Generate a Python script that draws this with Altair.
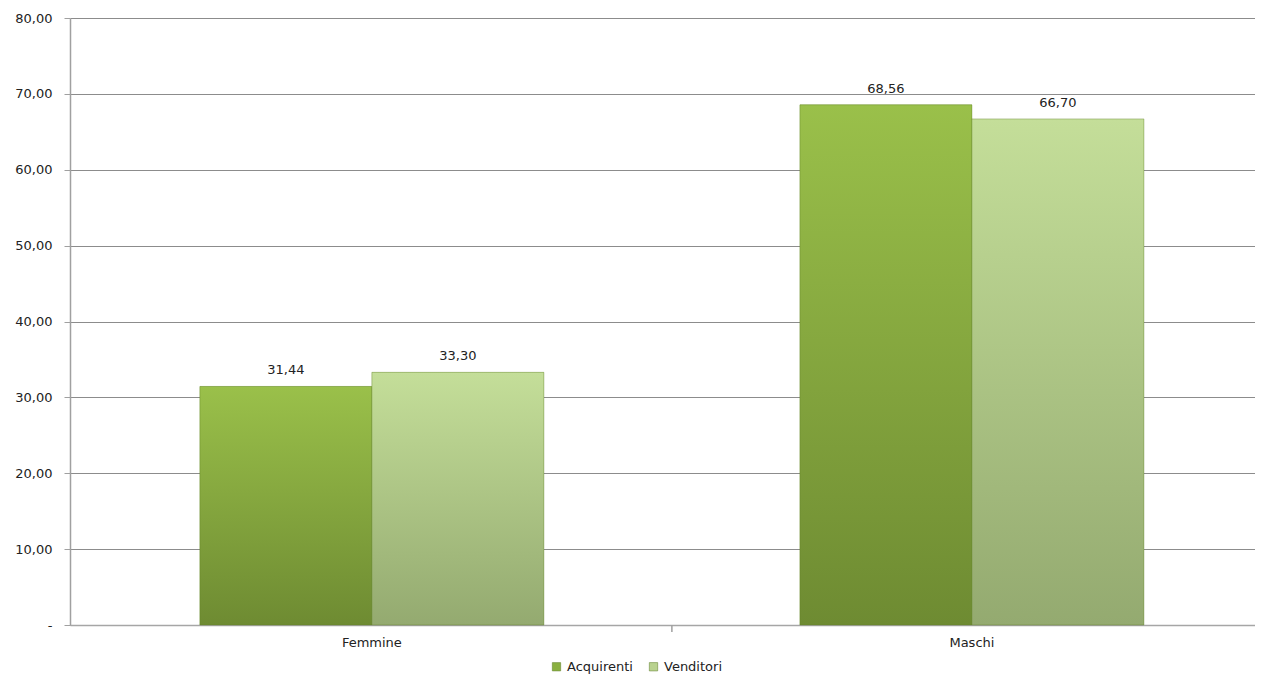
import altair as alt
import pandas as pd

categories = ["Femmine", "Femmine", "Maschi", "Maschi"]
series = ["Acquirenti", "Venditori", "Acquirenti", "Venditori"]
values = [31.44, 33.30, 68.56, 66.70]

series_order = ["Acquirenti", "Venditori"]
legend_colors = ["#8AB03F", "#B9D28F"]

df = pd.DataFrame({"cat": categories, "series": series, "value": values})
tick_df = pd.DataFrame({"cat": ["Femmine"]})

FONT = "DejaVu Sans"

grad_a = {
    "gradient": "linear", "x1": 0, "y1": 0, "x2": 0, "y2": 1,
    "stops": [
        {"offset": 0, "color": "#9AC04A"},
        {"offset": 1, "color": "#6E8B32"},
    ],
}
grad_v = {
    "gradient": "linear", "x1": 0, "y1": 0, "x2": 0, "y2": 1,
    "stops": [
        {"offset": 0, "color": "#C4DE99"},
        {"offset": 1, "color": "#94AA70"},
    ],
}

xscale = alt.Scale(domain=["Femmine", "Maschi"], paddingInner=0.4267, paddingOuter=0.2008, align=0.539)

x_enc = alt.X(
    "cat:N",
    title=None,
    sort=["Femmine", "Maschi"],
    scale=xscale,
    axis=alt.Axis(
        labelAngle=0, ticks=False, domainColor="#A6A6A6", domainWidth=1.5,
        labelFont=FONT, labelFontSize=13, labelColor="#222222", labelPadding=11,
    ),
)
xoff = alt.XOffset("series:N", sort=series_order, scale=alt.Scale(paddingInner=0, paddingOuter=0))
y_enc = alt.Y(
    "value:Q",
    title=None,
    scale=alt.Scale(domain=[0, 80], nice=False),
    axis=alt.Axis(
        values=[0, 10, 20, 30, 40, 50, 60, 70, 80],
        labelExpr="datum.value == 0 ? '-' : replace(format(datum.value, '.2f'), '.', ',')",
        labelFont=FONT, labelFontSize=13, labelColor="#222222", labelPadding=12,
        tickSize=6, tickColor="#A0A0A0", domainColor="#A0A0A0", domainWidth=1.5,
        gridColor="#8C8C8C", gridWidth=1, grid=True,
    ),
)

base = alt.Chart(df)

legend_bars = base.mark_bar().encode(
    x=x_enc, xOffset=xoff, y=y_enc,
    color=alt.Color(
        "series:N", sort=series_order, title=None,
        scale=alt.Scale(domain=series_order, range=legend_colors),
        legend=alt.Legend(
            orient="none", legendX=480, legendY=642, direction="horizontal",
            symbolType="square", symbolSize=70, labelFont=FONT, labelFontSize=13,
            labelColor="#222222", columnPadding=14,
            symbolStrokeColor="#5A7A25", symbolStrokeWidth=0.5,
        ),
    ),
)

grad_bars = base.mark_bar(stroke="#5F7F26", strokeWidth=0.8, strokeOpacity=0.5).encode(
    x=x_enc, xOffset=xoff, y=y_enc,
    fill=alt.condition(alt.datum.series == "Acquirenti", alt.value(grad_a), alt.value(grad_v)),
)

labels = base.transform_calculate(
    label="replace(format(datum.value, '.2f'), '.', ',')"
).mark_text(dy=-16, font=FONT, fontSize=13, color="#222222").encode(
    x=x_enc, xOffset=xoff, y=y_enc, text="label:N",
)

ticks = alt.Chart(tick_df).mark_rule(color="#A0A0A0", strokeWidth=1.5, xOffset=128).encode(
    x=alt.X("cat:N", sort=["Femmine", "Maschi"], scale=xscale, bandPosition=1),
    y=alt.value(607), y2=alt.value(614),
)

chart = alt.layer(legend_bars, grad_bars, labels, ticks).properties(
    width=1185, height=607,
    autosize=alt.AutoSizeParams(type="none"),
    padding={"left": 62, "top": 10, "right": 0, "bottom": 49},
).configure_view(stroke=None).configure_axis(
    grid=False
).configure_axisY(grid=True)

chart.save("out.html", embed_options={"renderer": "svg", "actions": False})
